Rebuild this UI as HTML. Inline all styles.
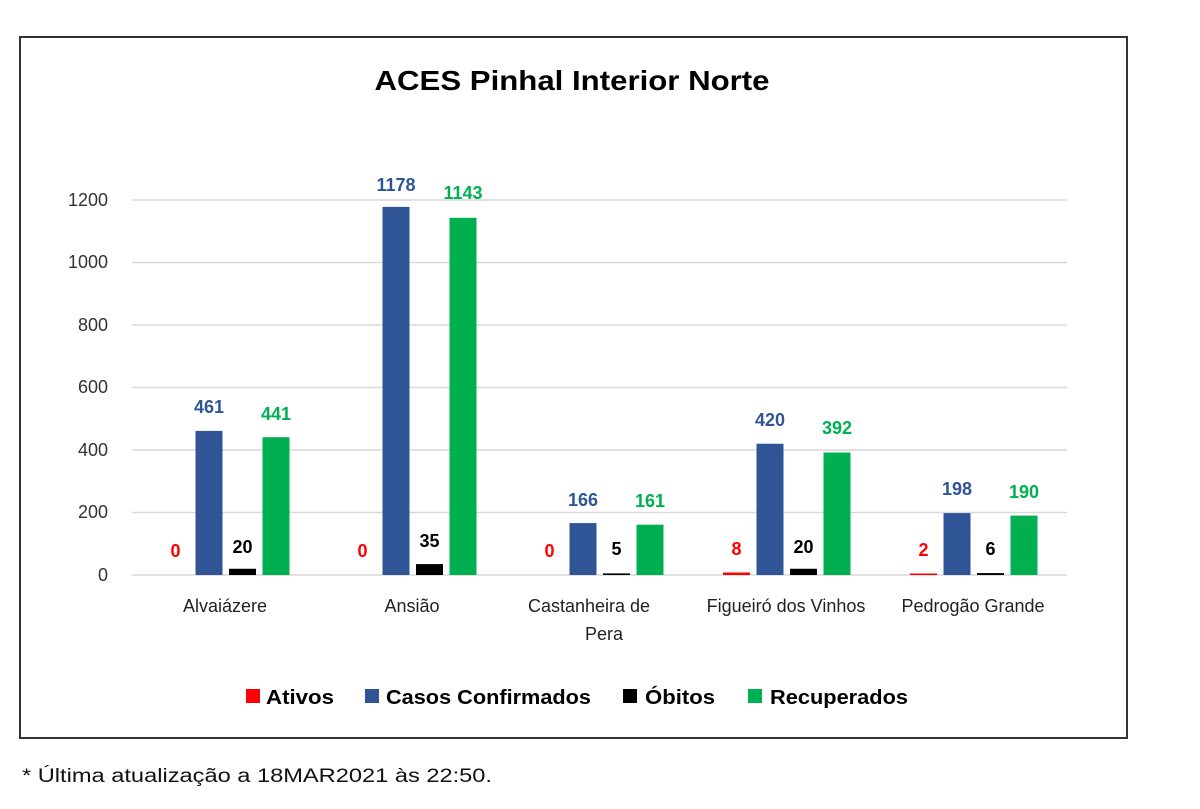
<!DOCTYPE html>
<html><head><meta charset="utf-8"><style>
body{margin:0;background:#fff;}
svg{display:block;font-family:"Liberation Sans",sans-serif;}
</style></head><body>
<svg width="1200" height="809" viewBox="0 0 1200 809">
<rect x="20" y="37" width="1107" height="701" fill="#fff" stroke="#333" stroke-width="2"/>
<text x="572" y="90" text-anchor="middle" font-size="28" font-weight="bold" fill="#000" textLength="395" lengthAdjust="spacingAndGlyphs">ACES Pinhal Interior Norte</text>
<g stroke="#d9d9d9" stroke-width="1.5">
<line x1="132" x2="1067" y1="200" y2="200"/><line x1="132" x2="1067" y1="262.5" y2="262.5"/>
<line x1="132" x2="1067" y1="325" y2="325"/><line x1="132" x2="1067" y1="387.5" y2="387.5"/>
<line x1="132" x2="1067" y1="450" y2="450"/><line x1="132" x2="1067" y1="512.5" y2="512.5"/>
<line x1="132" x2="1067" y1="575" y2="575"/>
</g>
<g font-size="18" fill="#333" text-anchor="end">
<text x="108" y="206">1200</text><text x="108" y="268">1000</text><text x="108" y="331">800</text>
<text x="108" y="393">600</text><text x="108" y="456">400</text><text x="108" y="518">200</text><text x="108" y="581">0</text>
</g>
<g>
<rect x="195.5" y="430.9" width="27" height="144.1" fill="#2f5597"/>
<rect x="229" y="568.75" width="27" height="6.25" fill="#000"/>
<rect x="262.5" y="437.2" width="27" height="137.8" fill="#00b050"/>
<rect x="382.5" y="206.9" width="27" height="368.1" fill="#2f5597"/>
<rect x="416" y="564.1" width="27" height="10.9" fill="#000"/>
<rect x="449.5" y="217.8" width="27" height="357.2" fill="#00b050"/>
<rect x="569.5" y="523.1" width="27" height="51.9" fill="#2f5597"/>
<rect x="603" y="573.4" width="27" height="1.6" fill="#000"/>
<rect x="636.5" y="524.7" width="27" height="50.3" fill="#00b050"/>
<rect x="723" y="572.5" width="27" height="2.5" fill="#ff0000"/>
<rect x="756.5" y="443.75" width="27" height="131.25" fill="#2f5597"/>
<rect x="790" y="568.75" width="27" height="6.25" fill="#000"/>
<rect x="823.5" y="452.5" width="27" height="122.5" fill="#00b050"/>
<rect x="910" y="573.5" width="27" height="1.5" fill="#ff0000"/>
<rect x="943.5" y="513.1" width="27" height="61.9" fill="#2f5597"/>
<rect x="977" y="573.1" width="27" height="1.9" fill="#000"/>
<rect x="1010.5" y="515.6" width="27" height="59.4" fill="#00b050"/>
</g>
<g font-size="18" font-weight="bold" text-anchor="middle">
<text x="175.5" y="557" fill="#ff0000">0</text>
<text x="209" y="413" fill="#2f5597">461</text>
<text x="242.5" y="553" fill="#000">20</text>
<text x="276" y="420" fill="#00b050">441</text>
<text x="362.5" y="557" fill="#ff0000">0</text>
<text x="396" y="191" fill="#2f5597">1178</text>
<text x="429.5" y="547" fill="#000">35</text>
<text x="463" y="199" fill="#00b050">1143</text>
<text x="549.5" y="557" fill="#ff0000">0</text>
<text x="583" y="506" fill="#2f5597">166</text>
<text x="616.5" y="555" fill="#000">5</text>
<text x="650" y="507" fill="#00b050">161</text>
<text x="736.5" y="555" fill="#ff0000">8</text>
<text x="770" y="426" fill="#2f5597">420</text>
<text x="803.5" y="553" fill="#000">20</text>
<text x="837" y="434" fill="#00b050">392</text>
<text x="923.5" y="556" fill="#ff0000">2</text>
<text x="957" y="495" fill="#2f5597">198</text>
<text x="990.5" y="555" fill="#000">6</text>
<text x="1024" y="498" fill="#00b050">190</text>
</g>
<g font-size="18" fill="#222" text-anchor="middle">
<text x="225" y="612">Alvaiázere</text>
<text x="412" y="612">Ansião</text>
<text x="589" y="612">Castanheira de</text><text x="604" y="640">Pera</text>
<text x="786" y="612">Figueiró dos Vinhos</text>
<text x="973" y="612">Pedrogão Grande</text>
</g>
<g font-size="20" font-weight="bold" fill="#000">
<rect x="246" y="689" width="14" height="14" fill="#ff0000"/><text x="266" y="704" textLength="68" lengthAdjust="spacingAndGlyphs">Ativos</text>
<rect x="365" y="689" width="14" height="14" fill="#2f5597"/><text x="386" y="704" textLength="205" lengthAdjust="spacingAndGlyphs">Casos Confirmados</text>
<rect x="623" y="689" width="14" height="14" fill="#000"/><text x="645" y="704" textLength="70" lengthAdjust="spacingAndGlyphs">Óbitos</text>
<rect x="748" y="689" width="14" height="14" fill="#00b050"/><text x="770" y="704" textLength="138" lengthAdjust="spacingAndGlyphs">Recuperados</text>
</g>
<text x="22" y="782" font-size="19" fill="#111" textLength="470" lengthAdjust="spacingAndGlyphs">* Última atualização a 18MAR2021 às 22:50.</text>
</svg>
</body></html>
